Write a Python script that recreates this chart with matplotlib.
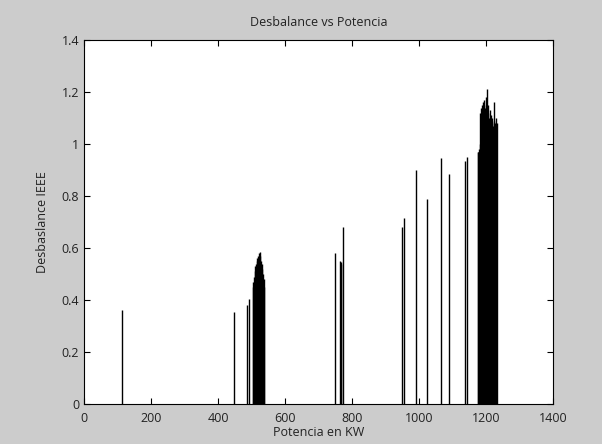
import matplotlib
matplotlib.use("Agg")
import matplotlib.pyplot as plt

# isolated readings (kW, IEEE unbalance)
single_kw = [113, 449, 486, 492, 749, 764, 766, 768, 772,
             950, 956, 991, 1024, 1066, 1089, 1137, 1143]
single_val = [0.36, 0.355, 0.38, 0.405, 0.58, 0.55, 0.545, 0.54, 0.68,
              0.68, 0.715, 0.90, 0.79, 0.945, 0.885, 0.935, 0.95]

# dense cluster near 500 kW
c1_kw = [504, 506, 508, 510, 512, 514, 516, 518, 520, 522, 524, 526,
         528, 530, 532, 534, 536, 538]
c1_val = [0.45, 0.47, 0.49, 0.51, 0.53, 0.54, 0.55, 0.56, 0.57, 0.58,
          0.585, 0.57, 0.55, 0.54, 0.52, 0.50, 0.48, 0.45]

# dense cluster near 1200 kW
c2_kw = [1175, 1177, 1179, 1181, 1183, 1185, 1187, 1189, 1191, 1193,
         1195, 1197, 1199, 1201, 1203, 1205, 1207, 1209, 1211, 1213,
         1215, 1217, 1219, 1221, 1223, 1225, 1227, 1229, 1231, 1233]
c2_val = [0.97, 0.97, 0.98, 1.00, 1.12, 1.14, 1.15, 1.13, 1.16, 1.15,
          1.17, 1.14, 1.13, 1.18, 1.21, 1.15, 1.12, 1.10, 1.13, 1.09,
          1.11, 1.08, 1.10, 1.07, 1.09, 1.16, 1.08, 1.10, 1.07, 1.08]

x_ticks = [0, 200, 400, 600, 800, 1000, 1200, 1400]
y_ticks = [0, 0.2, 0.4, 0.6, 0.8, 1.0, 1.2, 1.4]
y_labels = ["0", "0.2", "0.4", "0.6", "0.8", "1", "1.2", "1.4"]

plt.rcParams['font.family'] = ['Open Sans', 'DejaVu Sans']
fig = plt.figure(figsize=(6.02, 4.44), dpi=100, facecolor='#cccccc')
ax = fig.add_axes([0.1395, 0.09, 0.779, 0.82])
ax.set_facecolor('white')

for xs, ys in [(single_kw, single_val), (c1_kw, c1_val), (c2_kw, c2_val)]:
    ax.vlines(xs, 0, ys, colors='black', linewidth=1.0)

ax.set_xlim(0, 1400)
ax.set_ylim(0, 1.4)
ax.set_xticks(x_ticks)
ax.set_yticks(y_ticks)
ax.set_yticklabels(y_labels)
ax.tick_params(direction='in', top=True, right=True, length=4, width=0.8,
               labelsize=9, colors='black', labelcolor='#222222')
ax.tick_params(axis='x', pad=5.5)
for s in ax.spines.values():
    s.set_linewidth(0.8)
ax.set_title('Desbalance vs Potencia', fontsize=9, color='#222222', pad=10)
ax.set_xlabel('Potencia en KW', fontsize=9, color='#222222', labelpad=1)
ax.set_ylabel('Desbaslance IEEE', fontsize=9, color='#222222', labelpad=9)

fig.savefig('out.png', dpi=100, facecolor=fig.get_facecolor())
